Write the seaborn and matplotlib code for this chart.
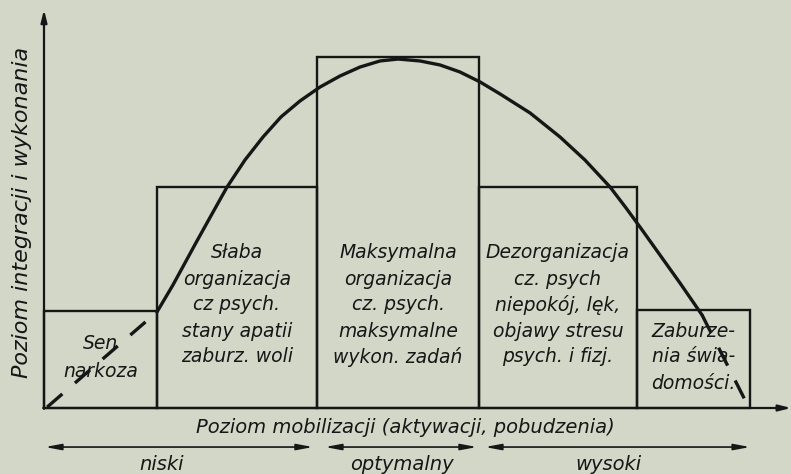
import numpy as np
import pandas as pd
import matplotlib
matplotlib.use("Agg")
import matplotlib.pyplot as plt
import seaborn as sns

# ---- data (arbitrary units) ----
bar_edges = [0, 7.06, 17.06, 27.19, 37.06, 44.13]
bar_heights = [6.05, 13.8, 21.95, 13.8, 6.1]
bar_labels = [
    ["Sen", "narkoza"],
    ["Słaba", "organizacja", "cz psych.", "stany apatii", "zaburz. woli"],
    ["Maksymalna", "organizacja", "cz. psych.", "maksymalne", "wykon. zadań"],
    ["Dezorganizacja", "cz. psych", "niepokój, lęk,", "objawy stresu", "psych. i fizj."],
    ["Zaburze-", "nia świa-", "domości."],
]

curve_x = [7.06, 8.06, 9.56, 10.5, 11.44, 12.56, 13.69, 14.81, 16.0, 17.25, 18.5,
           19.75, 21.0, 22.13, 23.5, 24.75, 26.0, 27.25, 28.5, 30.38, 32.25, 33.81,
           35.38, 36.38, 37.38, 38.5, 39.75, 41.13]
curve_y = [6.0, 7.69, 10.44, 12.13, 13.81, 15.5, 16.94, 18.19, 19.19, 20.06, 20.75,
           21.31, 21.69, 21.81, 21.69, 21.44, 21.0, 20.38, 19.63, 18.44, 16.94, 15.5,
           13.81, 12.5, 11.13, 9.56, 7.81, 5.81]
left_tail_x = [0.2, 7.06]
left_tail_y = [0.06, 6.0]
right_tail_x = [41.13, 44.0]
right_tail_y = [5.81, 0.13]

levels = ["niski", "optymalny", "wysoki"]
level_ranges = [(0.06, 16.81), (17.56, 27.06), (27.56, 44.13)]

y_title = "Poziom integracji i wykonania"
x_title = "Poziom mobilizacji (aktywacji, pobudzenia)"

# ---- figure ----
sns.set_theme(style="white")
plt.rcParams["font.family"] = ["DejaVu Sans"]
BG = "#d2d7c8"
INK = "#161616"

fig = plt.figure(figsize=(7.91, 4.74), dpi=100, facecolor=BG)
ax = fig.add_axes([0, 0, 1, 1])
ax.set_facecolor(BG)

mids = [(a + b) / 2 for a, b in zip(bar_edges[:-1], bar_edges[1:])]
df = pd.DataFrame({"x": mids, "h": bar_heights})
sns.histplot(data=df, x="x", weights="h", bins=bar_edges, fill=False,
             element="bars", color=INK, linewidth=1.7, ax=ax)

sns.lineplot(x=curve_x, y=curve_y, sort=False, color=INK, linewidth=2.4,
             estimator=None, ax=ax)
for tx, ty in [(left_tail_x, left_tail_y), (right_tail_x, right_tail_y)]:
    sns.lineplot(x=tx, y=ty, sort=False, color=INK, linewidth=2.4,
                 estimator=None, ax=ax, linestyle=(0, (6, 5)))

ax.set_xlim(-44 / 16, (791 - 44) / 16)
ax.set_ylim((408 - 474) / 16, 408 / 16)
ax.set_axis_off()

# axes arrows
ax.annotate("", xy=(0, 24.9), xytext=(0, -0.05),
            arrowprops=dict(arrowstyle="-|>,head_length=0.6,head_width=0.15",
                            color=INK, lw=1.6, shrinkA=0, shrinkB=0))
ax.annotate("", xy=(46.7, 0), xytext=(-0.05, 0),
            arrowprops=dict(arrowstyle="-|>,head_length=0.6,head_width=0.15",
                            color=INK, lw=1.6, shrinkA=0, shrinkB=0))

# box texts
line_ys = [9.69, 8.06, 6.44, 4.81, 3.19]
for i, lines in enumerate(bar_labels):
    cx = mids[i]
    if i == 0:
        ys = [4.06, 2.31]
    elif i == 4:
        ys = [4.81, 3.19, 1.56]
    else:
        ys = line_ys
    for t, yy in zip(lines, ys):
        ax.text(cx, yy, t, ha="center", va="center", fontsize=13.5,
                style="italic", color=INK)

ax.text(-1.375, 12.25, y_title, rotation=90, ha="center", va="center",
        fontsize=16, style="italic", color=INK)
ax.text(22.6, -1.19, x_title, ha="center", va="center", fontsize=14,
        style="italic", color=INK)

for lab, (a, b) in zip(levels, level_ranges):
    ax.annotate("", xy=(b, -2.44), xytext=(a, -2.44),
                arrowprops=dict(arrowstyle="<|-|>,head_length=0.8,head_width=0.15",
                                color=INK, lw=1.2, shrinkA=0, shrinkB=0))
label_x = [7.375, 22.375, 35.25]
for lab, lx in zip(levels, label_x):
    ax.text(lx, -3.5, lab, ha="center", va="center", fontsize=14,
            style="italic", color=INK)

fig.savefig("out.png", dpi=100, facecolor=BG)
